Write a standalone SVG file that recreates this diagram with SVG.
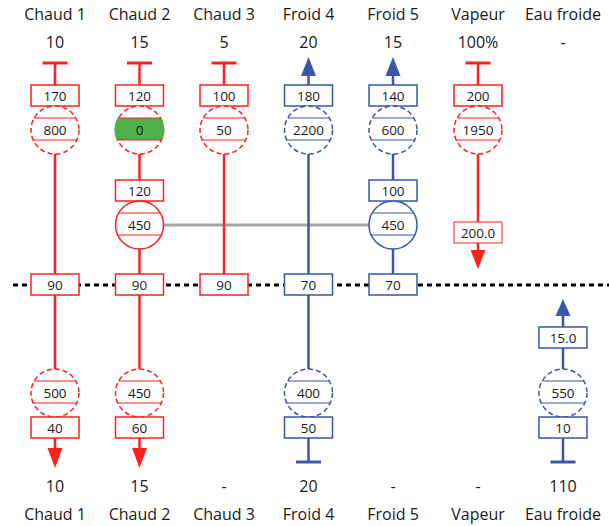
<svg xmlns="http://www.w3.org/2000/svg" width="609" height="526" viewBox="0 0 609 526">
<style>
text{font-family:"Open Sans","Noto Sans","DejaVu Sans",sans-serif;fill:#1a1a1a;text-anchor:middle}
.t{font-size:16px}
.n{font-size:13.5px}
.rl{stroke:#FF2020;stroke-width:2.5;fill:none}
.bl{stroke:#3A56A8;stroke-width:2.5;fill:none}
.rb{fill:#fff;stroke:#FF2020;stroke-width:1.5}
.bb{fill:#fff;stroke:#3A56A8;stroke-width:1.5}
.rcd{fill:#fff;stroke:#FF2020;stroke-width:1.5;stroke-dasharray:5 3}
.bcd{fill:#fff;stroke:#3A56A8;stroke-width:1.5;stroke-dasharray:5 3}
.rc{fill:#fff;stroke:#FF2020;stroke-width:1.5}
.bc{fill:#fff;stroke:#3A56A8;stroke-width:1.5}
.rch{stroke:#FF2020;stroke-width:1}
.bch{stroke:#3A56A8;stroke-width:1}
.ra{fill:#FF2020}
.ba{fill:#3A56A8}
.rbar{stroke:#FF2020;stroke-width:3}
.bbar{stroke:#3A56A8;stroke-width:3}
</style>
<defs>
<clipPath id="clipC2"><circle cx="139.5" cy="130" r="25"/></clipPath>
</defs>

<g id="labels">
<text class="t" x="55" y="20">Chaud 1</text>
<text class="t" x="139.5" y="20">Chaud 2</text>
<text class="t" x="224" y="20">Chaud 3</text>
<text class="t" x="308.5" y="20">Froid 4</text>
<text class="t" x="393" y="20">Froid 5</text>
<text class="t" x="478" y="20">Vapeur</text>
<text class="t" x="563" y="20">Eau froide</text>
<text class="t" x="55" y="48">10</text>
<text class="t" x="139.5" y="48">15</text>
<text class="t" x="224" y="48">5</text>
<text class="t" x="308.5" y="48">20</text>
<text class="t" x="393" y="48">15</text>
<text class="t" x="478" y="48">100%</text>
<text class="t" x="563" y="48">-</text>
<text class="t" x="55" y="492">10</text>
<text class="t" x="139.5" y="492">15</text>
<text class="t" x="224" y="492">-</text>
<text class="t" x="308.5" y="492">20</text>
<text class="t" x="393" y="492">-</text>
<text class="t" x="478" y="492">-</text>
<text class="t" x="563" y="492">110</text>
<text class="t" x="55" y="520">Chaud 1</text>
<text class="t" x="139.5" y="520">Chaud 2</text>
<text class="t" x="224" y="520">Chaud 3</text>
<text class="t" x="308.5" y="520">Froid 4</text>
<text class="t" x="393" y="520">Froid 5</text>
<text class="t" x="478" y="520">Vapeur</text>
<text class="t" x="563" y="520">Eau froide</text>
</g>

<g id="connectors">
<line x1="13" y1="285" x2="609" y2="285" stroke="#000" stroke-width="3" stroke-dasharray="5 4"/>
<line x1="163.5" y1="225" x2="369" y2="225" stroke="#A6A6A6" stroke-width="3"/>
<line class="rl" x1="55" y1="63" x2="55" y2="450"/>
<line class="rl" x1="139.5" y1="63" x2="139.5" y2="450"/>
<line class="rl" x1="224" y1="63" x2="224" y2="285"/>
<line class="bl" x1="308.5" y1="74" x2="308.5" y2="462"/>
<line class="bl" x1="393" y1="74" x2="393" y2="285"/>
<line class="rl" x1="478" y1="63" x2="478" y2="252"/>
<line class="bl" x1="563" y1="313" x2="563" y2="462"/>
</g>

<g id="chaud1">
<line class="rbar" x1="42.5" y1="63" x2="67.5" y2="63"/>
<rect class="rb" x="31" y="85" width="48" height="21"/>
<text class="n" x="55" y="101">170</text>
<circle class="rcd" cx="55" cy="130" r="24"/>
<line class="rch" x1="34.2" y1="118" x2="75.8" y2="118"/>
<line class="rch" x1="33.2" y1="140" x2="76.8" y2="140"/>
<text class="n" x="55" y="135">800</text>
<rect class="rb" x="31" y="274" width="48" height="21"/>
<text class="n" x="55" y="290">90</text>
<circle class="rcd" cx="55" cy="393" r="24"/>
<line class="rch" x1="34.2" y1="381" x2="75.8" y2="381"/>
<line class="rch" x1="33.2" y1="403" x2="76.8" y2="403"/>
<text class="n" x="55" y="398">500</text>
<rect class="rb" x="31" y="417" width="48" height="21"/>
<text class="n" x="55" y="433">40</text>
<polygon class="ra" points="47.5,448 62.5,448 55,468"/>
</g>

<g id="chaud2">
<line class="rbar" x1="127" y1="63" x2="152" y2="63"/>
<rect class="rb" x="115.5" y="85" width="48" height="21"/>
<text class="n" x="139.5" y="101">120</text>
<circle class="rcd" cx="139.5" cy="130" r="24"/>
<rect x="114" y="118" width="51" height="22" fill="#4DB04A" clip-path="url(#clipC2)"/>
<line class="rch" x1="117.5" y1="118" x2="161.5" y2="118"/>
<line class="rch" x1="116.7" y1="140" x2="162.3" y2="140"/>
<text class="n" x="139.5" y="135">0</text>
<rect class="rb" x="115.5" y="180" width="48" height="21"/>
<text class="n" x="139.5" y="196">120</text>
<circle class="rc" cx="139.5" cy="225" r="24"/>
<line class="rch" x1="118.7" y1="213" x2="160.3" y2="213"/>
<line class="rch" x1="117.7" y1="235" x2="161.3" y2="235"/>
<text class="n" x="139.5" y="230">450</text>
<rect class="rb" x="115.5" y="274" width="48" height="21"/>
<text class="n" x="139.5" y="290">90</text>
<circle class="rcd" cx="139.5" cy="393" r="24"/>
<line class="rch" x1="118.7" y1="381" x2="160.3" y2="381"/>
<line class="rch" x1="117.7" y1="403" x2="161.3" y2="403"/>
<text class="n" x="139.5" y="398">450</text>
<rect class="rb" x="115.5" y="417" width="48" height="21"/>
<text class="n" x="139.5" y="433">60</text>
<polygon class="ra" points="132,448 147,448 139.5,468"/>
</g>

<g id="chaud3">
<line class="rbar" x1="211.5" y1="63" x2="236.5" y2="63"/>
<rect class="rb" x="200" y="85" width="48" height="21"/>
<text class="n" x="224" y="101">100</text>
<circle class="rcd" cx="224" cy="130" r="24"/>
<line class="rch" x1="203.2" y1="118" x2="244.8" y2="118"/>
<line class="rch" x1="202.2" y1="140" x2="245.8" y2="140"/>
<text class="n" x="224" y="135">50</text>
<rect class="rb" x="200" y="274" width="48" height="21"/>
<text class="n" x="224" y="290">90</text>
</g>

<g id="froid4">
<polygon class="ba" points="308.5,57 301,76 316,76"/>
<rect class="bb" x="284.5" y="85" width="48" height="21"/>
<text class="n" x="308.5" y="101">180</text>
<circle class="bcd" cx="308.5" cy="130" r="24"/>
<line class="bch" x1="287.7" y1="118" x2="329.3" y2="118"/>
<line class="bch" x1="286.7" y1="140" x2="330.3" y2="140"/>
<text class="n" x="308.5" y="135">2200</text>
<rect class="bb" x="284.5" y="274" width="48" height="21"/>
<text class="n" x="308.5" y="290">70</text>
<circle class="bcd" cx="308.5" cy="393" r="24"/>
<line class="bch" x1="287.7" y1="381" x2="329.3" y2="381"/>
<line class="bch" x1="286.7" y1="403" x2="330.3" y2="403"/>
<text class="n" x="308.5" y="398">400</text>
<rect class="bb" x="284.5" y="417" width="48" height="21"/>
<text class="n" x="308.5" y="433">50</text>
<line class="bbar" x1="296" y1="462" x2="321" y2="462"/>
</g>

<g id="froid5">
<polygon class="ba" points="393,57 385.5,76 400.5,76"/>
<rect class="bb" x="369" y="85" width="48" height="21"/>
<text class="n" x="393" y="101">140</text>
<circle class="bcd" cx="393" cy="130" r="24"/>
<line class="bch" x1="372.2" y1="118" x2="413.8" y2="118"/>
<line class="bch" x1="371.2" y1="140" x2="414.8" y2="140"/>
<text class="n" x="393" y="135">600</text>
<rect class="bb" x="369" y="180" width="48" height="21"/>
<text class="n" x="393" y="196">100</text>
<circle class="bc" cx="393" cy="225" r="24"/>
<line class="bch" x1="372.2" y1="213" x2="413.8" y2="213"/>
<line class="bch" x1="371.2" y1="235" x2="414.8" y2="235"/>
<text class="n" x="393" y="230">450</text>
<rect class="bb" x="369" y="274" width="48" height="21"/>
<text class="n" x="393" y="290">70</text>
</g>

<g id="vapeur">
<line class="rbar" x1="465.5" y1="63" x2="490.5" y2="63"/>
<rect class="rb" x="454" y="85" width="48" height="21"/>
<text class="n" x="478" y="101">200</text>
<circle class="rcd" cx="478" cy="130" r="24"/>
<line class="rch" x1="457.2" y1="118" x2="498.8" y2="118"/>
<line class="rch" x1="456.2" y1="140" x2="499.8" y2="140"/>
<text class="n" x="478" y="135">1950</text>
<rect x="454" y="222" width="48" height="21" fill="#fff" stroke="#FF2020" stroke-width="1"/>
<text class="n" x="478" y="238">200.0</text>
<polygon class="ra" points="470.5,250 485.5,250 478,269"/>
</g>

<g id="eau-froide">
<polygon class="ba" points="563,299 555.5,316 570.5,316"/>
<rect class="bb" x="539" y="327" width="48" height="21"/>
<text class="n" x="563" y="343">15.0</text>
<circle class="bcd" cx="563" cy="393" r="24"/>
<line class="bch" x1="542.2" y1="381" x2="583.8" y2="381"/>
<line class="bch" x1="541.2" y1="403" x2="584.8" y2="403"/>
<text class="n" x="563" y="398">550</text>
<rect class="bb" x="539" y="417" width="48" height="21"/>
<text class="n" x="563" y="433">10</text>
<line class="bbar" x1="550.5" y1="462" x2="575.5" y2="462"/>
</g>
</svg>
